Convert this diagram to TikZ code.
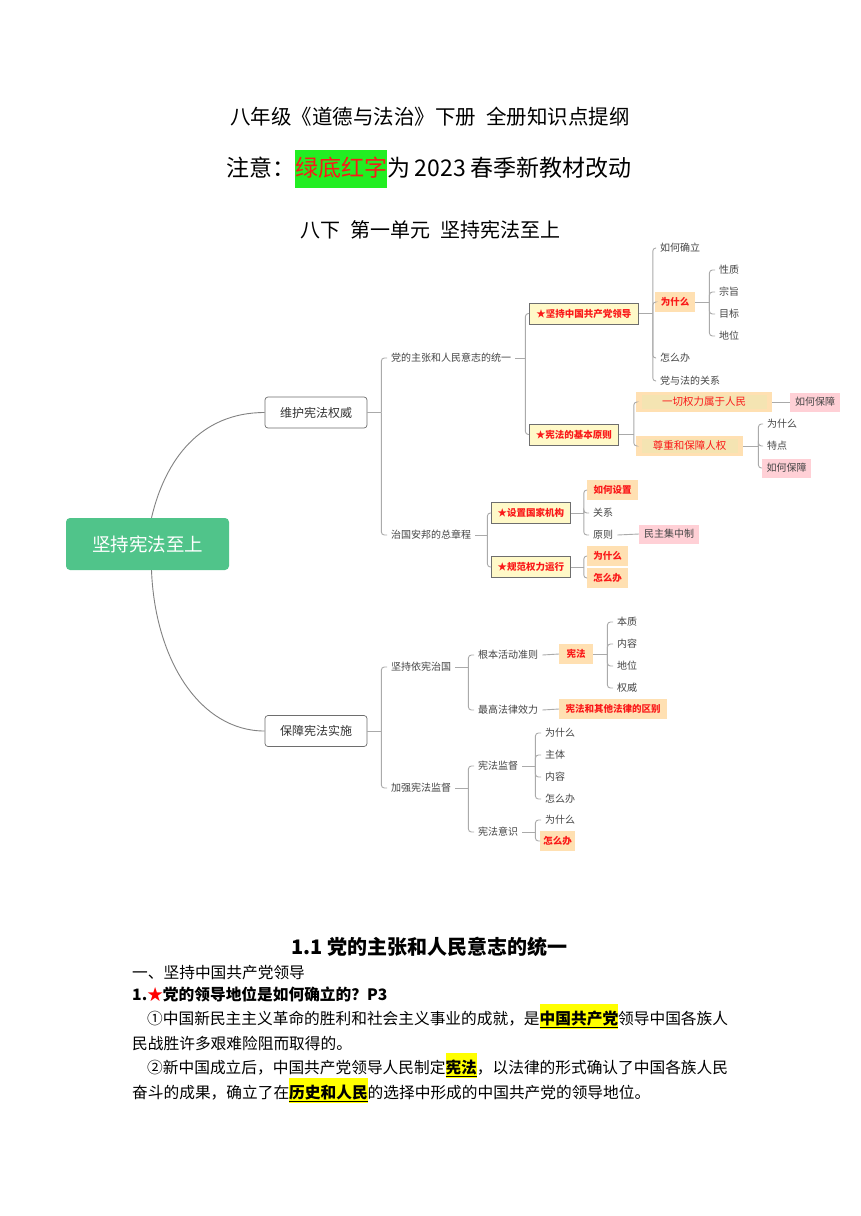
\documentclass[tikz,border=0pt]{standalone}
\usepackage{fontspec}
\setmainfont{Noto Sans CJK SC}
\usetikzlibrary{backgrounds}
\definecolor{rootg}{RGB}{80,196,138}
\definecolor{ybg}{RGB}{255,249,200}
\definecolor{peach}{RGB}{255,224,178}
\definecolor{peachin}{RGB}{244,228,178}
\definecolor{pinkb}{RGB}{255,208,214}
\definecolor{redt}{RGB}{250,25,25}
\definecolor{leafc}{RGB}{68,68,68}
\definecolor{lnc}{RGB}{170,170,170}
\definecolor{curvec}{RGB}{130,130,130}
\definecolor{brd}{RGB}{110,110,110}
\definecolor{hly}{RGB}{255,255,0}
\definecolor{greenhl}{RGB}{34,238,34}
\newcommand\fsz[1]{\fontsize{#1pt}{#1pt}\selectfont}
\newcommand\gbox[1]{{\setlength\fboxsep{0pt}\colorbox{greenhl}{\rule[-11.3pt]{0pt}{38pt}\color{redt}#1}}}
\newcommand\hlx[1]{{\setlength\fboxsep{0pt}\colorbox{hly}{\rule[-5pt]{0pt}{25pt}\bfseries\underline{#1}}}}
\begin{document}
\begin{tikzpicture}[x=1pt,y=-1pt,
  leaf/.style={anchor=west, inner xsep=4pt, inner ysep=1pt, text=leafc, font=\fsz{10}},
  ybox/.style={anchor=west, draw=brd, line width=0.8pt, fill=ybg, text=redt, font=\fsz{9.5}\bfseries, minimum height=21pt, inner xsep=2pt, inner ysep=0pt},
  obox/.style={anchor=west, fill=peach, text=redt, font=\fsz{9.5}\bfseries, minimum height=20pt, inner xsep=2pt, inner ysep=0pt},
  pbox/.style={anchor=west, fill=pinkb, text=leafc, font=\fsz{10}, minimum height=19pt, inner xsep=2pt, inner ysep=0pt},
  dbox/.style={anchor=west, text=redt, font=\fsz{10.5}, minimum height=20pt, inner sep=0pt},
  lone/.style={draw=brd, line width=0.7pt, rounded corners=3pt, fill=white, text=black!80, font=\fsz{12}, minimum width=102pt, minimum height=31pt},
  rootn/.style={fill=rootg, rounded corners=4pt, minimum width=163pt, minimum height=52pt, text=white, font=\fsz{18.5}},
  ln/.style={draw=lnc, line width=0.9pt},
  brk/.style={ln, rounded corners=3pt},
  crv/.style={draw=curvec, line width=0.9pt},
  body/.style={anchor=base west, inner sep=0pt, font=\fsz{15.7}}
]
\begin{scope}[on background layer]
\path[use as bounding box, fill=white] (0,0) rectangle (860,1216);
\end{scope}

% titles
\node[font=\fsz{20.5}] (t1) at (430,117) {八年级《道德与法治》下册\hspace{0.5em}全册知识点提纲};
\node[anchor=base west, inner sep=0pt, font=\fsz{23}] (t2) at (226,176.7) {注意：\gbox{绿底红字}为\hspace{0.2em}2023\hspace{0.2em}春季新教材改动};
\node[font=\fsz{20}] (t3) at (430,230) {八下\hspace{0.5em}第一单元\hspace{0.5em}坚持宪法至上};

% root and level 1
\node[rootn] (root) at (147.5,544) {坚持宪法至上};
\node[lone] (wh) at (316,412.5) {维护宪法权威};
\node[lone] (bz) at (316,731) {保障宪法实施};
\draw[crv] ([xshift=4pt]root.north) .. controls (165,460) and (200,412.5) .. (wh.west);
\draw[crv] ([xshift=4pt]root.south) .. controls (155,660) and (200,731) .. (bz.west);

% level 2
\node[leaf] (zz) at (387,358) {党的主张和人民意志的统一};
\node[leaf] (zg) at (387,535) {治国安邦的总章程};
\node[leaf] (yx) at (387,667) {坚持依宪治国};
\node[leaf] (jq) at (387,788) {加强宪法监督};

% level 3
\node[ybox, minimum width=109pt] (jc) at (529,313.5) {★坚持中国共产党领导};
\node[ybox, minimum width=89pt] (xf) at (529,434.5) {★宪法的基本原则};
\node[ybox, minimum width=79pt] (sz) at (491,513) {★设置国家机构};
\node[ybox, minimum width=79pt] (gf) at (491,567) {★规范权力运行};
\node[leaf] (gb) at (474,655) {根本活动准则};
\node[leaf] (zg2) at (474,710) {最高法律效力};
\node[leaf] (xj) at (474,766) {宪法监督};
\node[leaf] (xy) at (474,832) {宪法意识};

% under jc
\node[leaf] (rhql) at (656,248) {如何确立};
\node[obox, minimum width=40pt] (wsm1) at (655,302) {为什么};
\node[leaf] (zmb1) at (656,358) {怎么办};
\node[leaf] (dyf) at (656,381) {党与法的关系};
\node[leaf] (xz) at (715,270) {性质};
\node[leaf] (zzh) at (715,292) {宗旨};
\node[leaf] (mb) at (715,314) {目标};
\node[leaf] (dw1) at (715,336) {地位};

% under xf
\node[dbox, minimum width=136pt] (yq) at (636,402) {一切权力属于人民};
\node[dbox, minimum width=107pt] (zz2) at (636,446) {尊重和保障人权};
\begin{scope}[on background layer]
\fill[peach] (yq.north west) rectangle (yq.south east);
\fill[peachin] ([xshift=6pt,yshift=-3pt]yq.north west) rectangle ([xshift=-5pt,yshift=3pt]yq.south east);
\fill[peach] (zz2.north west) rectangle (zz2.south east);
\fill[peachin] ([xshift=6pt,yshift=-3pt]zz2.north west) rectangle ([xshift=-5pt,yshift=3pt]zz2.south east);
\end{scope}
\node[pbox, minimum width=50pt] (rhbz1) at (790,402) {如何保障};
\node[leaf] (wsm2) at (763,424) {为什么};
\node[leaf] (td) at (763,446) {特点};
\node[pbox, minimum width=49pt] (rhbz2) at (762,468) {如何保障};

% under sz, gf
\node[obox, minimum width=51pt] (rhsz) at (587,490) {如何设置};
\node[leaf] (gx) at (589,513) {关系};
\node[leaf] (yz) at (589,535) {原则};
\node[pbox, minimum width=60pt] (mjz) at (639,534) {民主集中制};
\node[obox, minimum width=41pt] (wsm3) at (587,556) {为什么};
\node[obox, minimum width=41pt] (zmb3) at (587,578) {怎么办};

% under gb, zg2
\node[obox, minimum width=34pt] (xfb) at (559,654) {宪法};
\node[leaf] (bzh) at (613,622) {本质};
\node[leaf] (nr1) at (613,644) {内容};
\node[leaf] (dw2) at (613,666) {地位};
\node[leaf] (qw) at (613,688) {权威};
\node[obox, minimum width=108pt] (qb) at (559,709) {宪法和其他法律的区别};

% under xj, xy
\node[leaf] (wsm4) at (541,733) {为什么};
\node[leaf] (zt) at (541,755) {主体};
\node[leaf] (nr2) at (541,777) {内容};
\node[leaf] (zmb4) at (541,799) {怎么办};
\node[leaf] (wsm5) at (541,820) {为什么};
\node[obox, minimum width=35pt] (zmb5) at (540,841) {怎么办};

% connectors
\draw[ln] (wh.east) -- ++(14,0) coordinate (j1);
\foreach \c in {zz,zg} \draw[brk] (j1) |- (\c.west);
\draw[ln] (bz.east) -- ++(14,0) coordinate (j2);
\foreach \c in {yx,jq} \draw[brk] (j2) |- (\c.west);

\draw[ln] (zz.east) -- ++(10,0) coordinate (j3);
\foreach \c in {jc,xf} \draw[brk] (j3) |- (\c.west);
\draw[ln] (zg.east) -- ++(12,0) coordinate (j4);
\foreach \c in {sz,gf} \draw[brk] (j4) |- (\c.west);
\draw[ln] (yx.east) -- ++(13,0) coordinate (j5);
\foreach \c in {gb,zg2} \draw[brk] (j5) |- (\c.west);
\draw[ln] (jq.east) -- ++(13,0) coordinate (j6);
\foreach \c in {xj,xy} \draw[brk] (j6) |- (\c.west);

\draw[ln] (jc.east) -- ++(14,0) coordinate (j7);
\foreach \c in {rhql,wsm1,zmb1,dyf} \draw[brk] (j7) |- (\c.west);
\draw[ln] (wsm1.east) -- ++(14,0) coordinate (j8);
\foreach \c in {xz,zzh,mb,dw1} \draw[brk] (j8) |- (\c.west);

\draw[ln] (xf.east) -- ++(15,0) coordinate (j9);
\foreach \c in {yq,zz2} \draw[brk] (j9) |- (\c.west);
\draw[ln] (yq.east) -- (rhbz1.west);
\draw[ln] (zz2.east) -- ++(15,0) coordinate (j10);
\foreach \c in {wsm2,td,rhbz2} \draw[brk] (j10) |- (\c.west);

\draw[ln] (sz.east) -- ++(13,0) coordinate (j11);
\foreach \c in {rhsz,gx,yz} \draw[brk] (j11) |- (\c.west);
\draw[ln] (yz.east) -- (mjz.west);
\draw[ln] (gf.east) -- ++(13,0) coordinate (j12);
\foreach \c in {wsm3,zmb3} \draw[brk] (j12) |- (\c.west);

\draw[ln] (gb.east) -- (xfb.west);
\draw[ln] (xfb.east) -- ++(14,0) coordinate (j13);
\foreach \c in {bzh,nr1,dw2,qw} \draw[brk] (j13) |- (\c.west);
\draw[ln] (zg2.east) -- (qb.west);

\draw[ln] (xj.east) -- ++(13,0) coordinate (j14);
\foreach \c in {wsm4,zt,nr2,zmb4} \draw[brk] (j14) |- (\c.west);
\draw[ln] (xy.east) -- ++(13,0) coordinate (j15);
\foreach \c in {wsm5,zmb5} \draw[brk] (j15) |- (\c.west);

% bottom text
\node[anchor=base west, inner sep=0pt, font=\fsz{20}\bfseries] (h11) at (291,954) {1.1 党的主张和人民意志的统一};
\node[body] (p1) at (132,978) {一、坚持中国共产党领导};
\node[body, font=\fsz{15.7}\bfseries] (p2) at (132,1000) {1.{\color{red}★}党的领导地位是如何确立的？P3};
\node[body] (p3) at (147,1024) {①中国新民主主义革命的胜利和社会主义事业的成就，是\hlx{中国共产党}领导中国各族人};
\node[body] (p4) at (132,1049) {民战胜许多艰难险阻而取得的。};
\node[body] (p5) at (147,1073) {②新中国成立后，中国共产党领导人民制定\hlx{宪法}，以法律的形式确认了中国各族人民};
\node[body] (p6) at (132,1098) {奋斗的成果，确立了在\hlx{历史和人民}的选择中形成的中国共产党的领导地位。};
\end{tikzpicture}
\end{document}
